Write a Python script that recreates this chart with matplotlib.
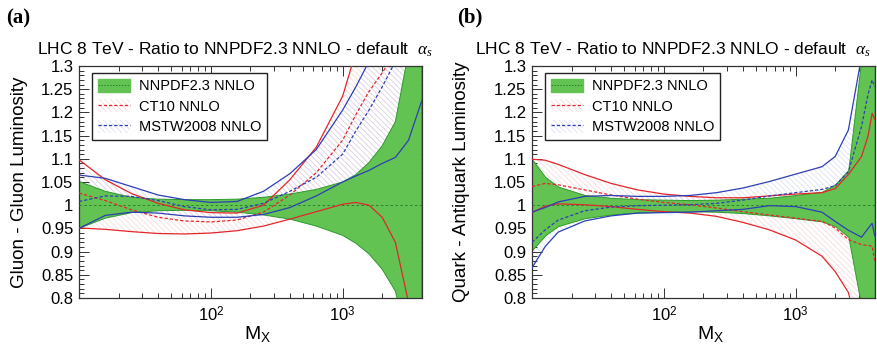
import numpy as np
import matplotlib
matplotlib.use('Agg')
import matplotlib.pyplot as plt
from matplotlib.patches import Patch
from matplotlib.lines import Line2D
from matplotlib.ticker import FixedLocator, FixedFormatter, MultipleLocator, FormatStrFormatter, NullFormatter

plt.rcParams['font.family'] = ['Liberation Sans', 'DejaVu Sans']
plt.rcParams['mathtext.fontset'] = 'custom'
plt.rcParams['mathtext.rm'] = 'Liberation Sans'
plt.rcParams['mathtext.it'] = 'Liberation Serif:italic'
plt.rcParams['hatch.linewidth'] = 0.4

# ---------------- data: gluon-gluon (a) ----------------
gg_mass = [10, 15.8, 25.1, 39.8, 63.1, 100, 158, 251, 398, 631, 1000, 1259, 1585, 1995, 2512, 3162, 3981]
gg_nnpdf_up = [1.051, 1.030, 1.017, 1.013, 1.012, 1.012, 1.013, 1.017, 1.024, 1.034, 1.050, 1.066, 1.092, 1.128, 1.180, 1.330, 1.500]
gg_nnpdf_dn = [0.950, 0.972, 0.984, 0.988, 0.989, 0.988, 0.985, 0.979, 0.970, 0.955, 0.935, 0.918, 0.895, 0.862, 0.815, 0.700, 0.600]
gg_ct10_up = [1.098, 1.055, 1.025, 1.004, 0.990, 0.984, 0.983, 1.000, 1.055, 1.125, 1.235, 1.330, 1.450, 1.600, 1.800, 2.000, 2.200]
gg_ct10_dn = [0.951, 0.948, 0.943, 0.939, 0.938, 0.940, 0.945, 0.955, 0.970, 0.986, 1.002, 1.006, 1.000, 0.974, 0.920, 0.790, 0.600]
gg_ct10_c = [1.026, 1.010, 0.990, 0.974, 0.966, 0.964, 0.968, 0.985, 1.022, 1.070, 1.140, 1.195, 1.245, 1.285, 1.330, 1.400, 1.500]
gg_mstw_up = [1.065, 1.058, 1.040, 1.022, 1.012, 1.006, 1.008, 1.030, 1.068, 1.120, 1.205, 1.255, 1.310, 1.400, 1.500, 1.600, 1.700]
gg_mstw_dn = [0.950, 0.978, 0.985, 0.983, 0.977, 0.974, 0.974, 0.980, 0.995, 1.020, 1.050, 1.063, 1.075, 1.090, 1.103, 1.140, 1.225]
gg_mstw_c = [1.008, 1.020, 1.019, 1.010, 0.997, 0.990, 0.991, 1.004, 1.030, 1.060, 1.110, 1.160, 1.205, 1.255, 1.310, 1.400, 1.500]

# ---------------- data: quark-antiquark (b) ----------------
qq_mass = [10, 12.6, 15.8, 25.1, 39.8, 63.1, 100, 158, 251, 398, 631, 1000, 1585, 1995, 2512, 3162, 3548, 3802, 3981]
qq_nnpdf_up = [1.099, 1.061, 1.040, 1.022, 1.016, 1.013, 1.012, 1.011, 1.012, 1.014, 1.016, 1.022, 1.029, 1.045, 1.076, 1.320, 1.400, 1.400, 1.400]
qq_nnpdf_dn = [0.903, 0.935, 0.955, 0.972, 0.980, 0.984, 0.986, 0.987, 0.986, 0.983, 0.978, 0.972, 0.965, 0.955, 0.932, 0.780, 0.700, 0.700, 0.700]
qq_ct10_up = [1.099, 1.097, 1.088, 1.066, 1.047, 1.033, 1.024, 1.019, 1.016, 1.016, 1.020, 1.024, 1.027, 1.036, 1.066, 1.105, 1.150, 1.198, 1.185]
qq_ct10_dn = [0.984, 0.998, 1.003, 1.001, 0.997, 0.991, 0.986, 0.983, 0.976, 0.963, 0.947, 0.925, 0.890, 0.857, 0.812, 0.700, 0.650, 0.600, 0.600]
qq_ct10_c = [1.040, 1.047, 1.044, 1.033, 1.022, 1.013, 1.006, 1.001, 0.994, 0.986, 0.979, 0.972, 0.965, 0.951, 0.926, 0.915, 0.913, 0.912, 0.880]
qq_mstw_up = [0.985, 0.995, 1.007, 1.019, 1.021, 1.019, 1.019, 1.021, 1.027, 1.037, 1.051, 1.067, 1.083, 1.105, 1.162, 1.320, 1.500, 1.600, 1.700]
qq_mstw_dn = [0.865, 0.911, 0.942, 0.966, 0.977, 0.983, 0.984, 0.985, 0.988, 0.991, 0.999, 0.997, 0.985, 0.965, 0.946, 0.931, 0.950, 0.961, 0.934]
qq_mstw_c = [0.920, 0.947, 0.968, 0.988, 0.996, 0.999, 1.000, 1.001, 1.004, 1.011, 1.020, 1.027, 1.034, 1.042, 1.072, 1.170, 1.240, 1.270, 1.255]

panel_tags = ['(a)', '(b)']
y_labels = ['Gluon - Gluon Luminosity', 'Quark - Antiquark Luminosity']
title_text = r'LHC 8 TeV - Ratio to NNPDF2.3 NNLO - default  $\alpha_s$'
legend_labels = ['NNPDF2.3 NNLO', 'CT10 NNLO', 'MSTW2008 NNLO']
y_ticks = [0.8, 0.85, 0.9, 0.95, 1.0, 1.05, 1.1, 1.15, 1.2, 1.25, 1.3]
x_ticks = [10, 100, 1000]
x_ticklabels = ['', r'$10^{2}$', r'$10^{3}$']

GREEN = '#62c352'
GREEN_EDGE = '#2c9a2c'
RED = '#e3262b'
BLUE = '#2d3fb5'
RED_H = '#f5cccc'
BLUE_H = '#cfd4ef'

W, H = 878, 352
fig = plt.figure(figsize=(W / 100, H / 100), dpi=100)

def px_axes(x0, y0, x1, y1):
    return fig.add_axes([x0 / W, 1 - y1 / H, (x1 - x0) / W, (y1 - y0) / H])

axes = [px_axes(79, 66, 422, 298), px_axes(532, 66, 875, 298)]

datasets = [
    (gg_mass, gg_nnpdf_up, gg_nnpdf_dn, gg_ct10_up, gg_ct10_dn, gg_ct10_c, gg_mstw_up, gg_mstw_dn, gg_mstw_c),
    (qq_mass, qq_nnpdf_up, qq_nnpdf_dn, qq_ct10_up, qq_ct10_dn, qq_ct10_c, qq_mstw_up, qq_mstw_dn, qq_mstw_c),
]

HATCH = '\\\\\\\\\\\\'
dash = (0, (2.6, 1.6))
for ax, d, ylab in zip(axes, datasets, y_labels):
    m, nu, nd, cu, cd, cc, mu, md, mc = [np.array(v, dtype=float) for v in d]
    ax.fill_between(m, cd, cu, facecolor='none', edgecolor=RED_H, hatch=HATCH, linewidth=0, zorder=1)
    ax.fill_between(m, md, mu, facecolor='none', edgecolor=BLUE_H, hatch=HATCH, linewidth=0, zorder=1)
    ax.fill_between(m, nd, nu, facecolor=GREEN, edgecolor=GREEN_EDGE, linewidth=0.7, zorder=2)
    ax.axhline(1.0, color='#2f7d2f', lw=0.7, ls=(0, (2.5, 2.5)), zorder=3)
    ax.plot(m, cu, color=RED, lw=0.9, zorder=4)
    ax.plot(m, cd, color=RED, lw=0.9, zorder=4)
    ax.plot(m, cc, color=RED, lw=0.9, ls=dash, zorder=4)
    ax.plot(m, mu, color=BLUE, lw=0.9, zorder=4)
    ax.plot(m, md, color=BLUE, lw=0.9, zorder=4)
    ax.plot(m, mc, color=BLUE, lw=0.9, ls=dash, zorder=4)

    ax.set_xscale('log')
    ax.set_xlim(10, 4000)
    ax.set_ylim(0.8, 1.3)
    ax.xaxis.set_major_locator(FixedLocator(x_ticks))
    ax.xaxis.set_major_formatter(FixedFormatter(x_ticklabels))
    ax.xaxis.set_minor_locator(FixedLocator([k * 10 ** e for e in (1, 2, 3) for k in range(2, 10)]))
    ax.xaxis.set_minor_formatter(NullFormatter())
    ax.yaxis.set_major_locator(FixedLocator(y_ticks))
    ax.yaxis.set_major_formatter(FormatStrFormatter('%g'))
    ax.yaxis.set_minor_locator(MultipleLocator(0.01))
    ax.tick_params(which='both', direction='in', top=True, right=True, width=0.7, colors='#333333',
                   labelcolor='black', labelsize=12)
    ax.tick_params(which='major', length=7)
    ax.tick_params(which='minor', length=3.5)
    ax.tick_params(axis='x', pad=5)
    ax.tick_params(axis='y', pad=4)
    for s in ax.spines.values():
        s.set_linewidth(0.9)
        s.set_color('#333333')

    ax.set_ylabel(ylab, fontsize=13.5)
    ax.set_xlabel(r'$\mathregular{M_X}$', fontsize=14)
    ax.xaxis.set_label_coords(0.52, -0.11)

    handles = [
        (Patch(facecolor=GREEN, edgecolor=GREEN), Line2D([], [], color='#2f7d2f', lw=0.7, ls=(0, (1.5, 1.5)))),
        (Patch(facecolor='none', edgecolor=RED_H, hatch=HATCH, linewidth=0), Line2D([], [], color=RED, lw=0.9, ls=dash)),
        (Patch(facecolor='none', edgecolor=BLUE_H, hatch=HATCH, linewidth=0), Line2D([], [], color=BLUE, lw=0.9, ls=dash)),
    ]
    leg = ax.legend(handles, legend_labels, loc='upper left', bbox_to_anchor=(0.038, 0.97),
                    borderaxespad=0, fontsize=10.5, frameon=True, fancybox=False, framealpha=1,
                    edgecolor='#222222', handlelength=2.2, handleheight=1.0, labelspacing=0.4,
                    borderpad=0.4, handletextpad=0.6)
    leg.get_frame().set_linewidth(1.0)
    leg.set_zorder(10)

axes[0].yaxis.set_label_coords((19 - 79) / 343, 0.5)
axes[1].yaxis.set_label_coords((462 - 532) / 343, 0.5)
for ax in axes:
    ax.yaxis.label.set_verticalalignment('center')

fig.text(235 / W, 1 - 50 / H, title_text, ha='center', va='center', fontsize=12.5)
fig.text(673 / W, 1 - 50 / H, title_text, ha='center', va='center', fontsize=12.5)
fig.text(6 / W, 1 - 8 / H, panel_tags[0], ha='left', va='top', fontsize=15,
         fontweight='bold', family=['Liberation Serif', 'DejaVu Serif'])
fig.text(457 / W, 1 - 7 / H, panel_tags[1], ha='left', va='top', fontsize=15,
         fontweight='bold', family=['Liberation Serif', 'DejaVu Serif'])

fig.savefig('out.png', dpi=100)
